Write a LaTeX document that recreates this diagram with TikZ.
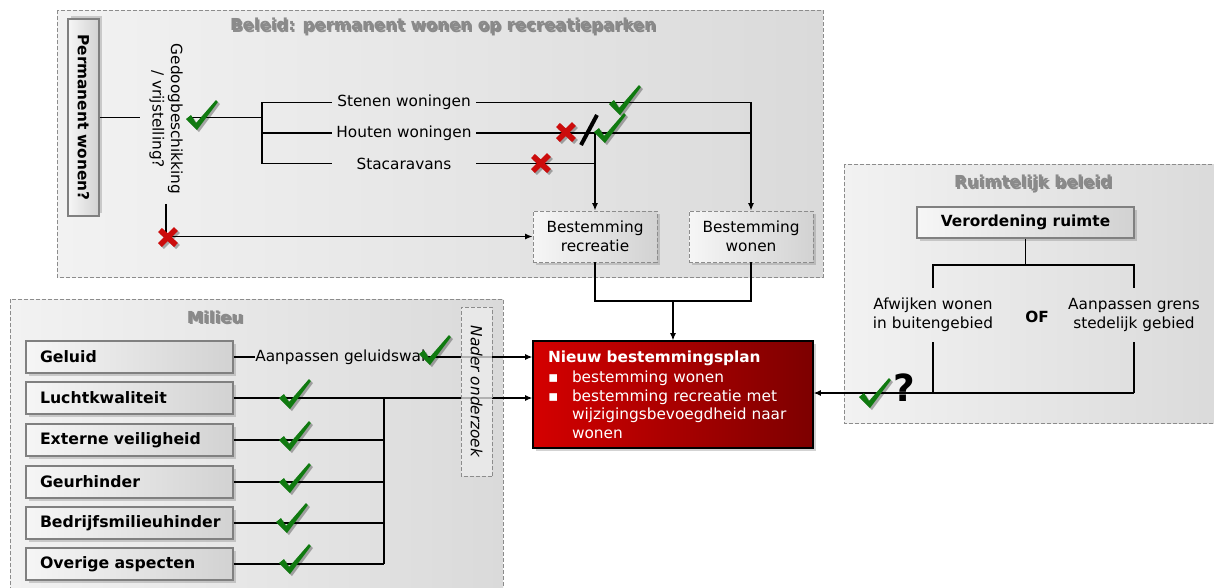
\documentclass[tikz,border=0pt]{standalone}
\usepackage{fontspec}
\setmainfont{DejaVu Sans}
\usetikzlibrary{shadows,arrows.meta}
\definecolor{panelL}{RGB}{242,242,242}
\definecolor{panelR}{RGB}{218,218,218}
\definecolor{boxL}{RGB}{246,246,246}
\definecolor{boxR}{RGB}{210,210,210}
\definecolor{boxdraw}{RGB}{128,128,128}
\definecolor{dashdraw}{RGB}{140,140,140}
\definecolor{redL}{RGB}{212,0,0}
\definecolor{redR}{RGB}{125,0,0}
\definecolor{chkgreen}{RGB}{16,122,16}
\definecolor{xred}{RGB}{204,12,12}
\definecolor{titlegray}{RGB}{138,138,138}
\tikzset{
  panel/.style={draw=dashdraw, dash pattern=on 3pt off 1.5pt, line width=0.6pt, left color=panelL, right color=panelR},
  shad/.style={drop shadow={opacity=0.35,shadow xshift=2pt,shadow yshift=-2.5pt}},
  rshad/.style={drop shadow={opacity=0.35,shadow xshift=2.5pt,shadow yshift=2pt}},
  box/.style={draw=boxdraw, line width=1.1pt, left color=boxL, right color=boxR},
  mbox/.style={box, shad, minimum height=24pt, text width=134.25pt, inner xsep=10.5pt, align=left, font=\bfseries\fontsize{11.8}{13.9}\selectfont},
  dbox/.style={draw=dashdraw, dash pattern=on 3pt off 1.5pt, line width=0.7pt, left color=boxL, right color=boxR, shad, minimum width=93pt, minimum height=38.25pt, align=center},
  txt/.style={inner sep=0pt},
  conn/.style={draw=black, line width=1pt},
  arr/.style={conn, -{Latex[length=5.5pt,width=4.5pt]}},
  ttl/.style={font=\bfseries\fontsize{12.4}{13}\selectfont, text=titlegray, inner sep=0pt},
  ttlshadow/.style={font=\bfseries\fontsize{12.4}{13}\selectfont, text=black, opacity=0.4, inner sep=0pt},
  chk/.pic={
    \fill[black, opacity=0.3] (-9,-6) -- (-4,-10) -- (1,-2) -- (21,-25) -- (23,-23) -- (2,5) -- cycle;
    \fill[chkgreen] (-11,-8) -- (-6,-12) -- (-1,-4) -- (19,-27) -- (21,-25) -- (0,3) -- cycle;
  },
  xmk/.pic={
    \draw[black, opacity=0.3, line width=4.2pt] (-6,-5) -- (10,10) (10,-6) -- (-6,10);
    \draw[xred, line width=4.2pt] (-8,-7) -- (8,8) (8,-8) -- (-8,8);
  }
}
\begin{document}
\begin{tikzpicture}[x=0.75pt,y=-0.75pt,font=\fontsize{11.5}{13.9}\selectfont]
\useasboundingbox (0,0) rectangle (1214,587);
% panels
\path[panel] (57,10) rectangle (823,277);
\path[panel] (10,299) rectangle (503,592);
\path[panel] (844,164) rectangle (1222,423);
% titles
\node[ttlshadow] (t1s) at (444.5,27.5) {Beleid: permanent wonen op recreatieparken};
\node[ttl] (t1) at (443,26) {Beleid: permanent wonen op recreatieparken};
\node[ttlshadow] (t2s) at (216.5,318.5) {Milieu};
\node[ttl] (t2) at (215,317) {Milieu};
\node[ttlshadow] (t3s) at (1034.5,184.5) {Ruimtelijk beleid};
\node[ttl] (t3) at (1033,183) {Ruimtelijk beleid};

% ===== Beleid panel =====
\node[box, rshad, rotate=-90, minimum width=147.75pt, minimum height=23.25pt, font=\bfseries\fontsize{11.5}{13.9}\selectfont] (perm) at (83.5,117.5) {Permanent wonen?};
\node[txt, rotate=-90, align=center, inner sep=7pt] (ged) at (166,119) {Gedoogbeschikking\\/ vrijstelling?};
\coordinate (bj) at (262,117.5);
\node[txt, minimum width=108pt] (sten) at (404,102.5) {Stenen woningen};
\node[txt, minimum width=108pt] (hout) at (404,133) {Houten woningen};
\node[txt, minimum width=108pt] (stac) at (404,163.5) {Stacaravans};
\node[dbox] (recr) at (595,236.5) {Bestemming\\recreatie};
\node[dbox] (wonen) at (751,236.5) {Bestemming\\wonen};
\coordinate (bb) at (673,301);

\draw[conn] (perm.north) -- (perm.north -| ged.south);
\draw[conn] (ged.north |- bj) -- (bj);
\draw[conn] (sten.west) -| (bj) |- (stac.west);
\draw[conn] (bj |- hout.west) -- (hout.west);
\draw[arr] (sten.east) -| (wonen.north);
\draw[conn] (hout.east) -- (hout.east -| wonen.north);
\draw[conn] (stac.east) -- (stac.east -| recr.north);
\draw[arr] (hout.east -| recr.north) -- (recr.north);
\draw[arr] (ged.east) |- (recr.west);
\draw[conn] (recr.south) |- (bb);
\draw[conn] (wonen.south) |- (bb);

% ===== Nieuw bestemmingsplan =====
\node[draw=black, line width=0.8pt, left color=redL, right color=redR, shad, text width=187.5pt, inner xsep=11.25pt, minimum height=80.25pt, align=left, text=white] (plan) at (673,394.5)
 {{\bfseries Nieuw bestemmingsplan}\\[1.5pt]
  \makebox[18pt][l]{▪}bestemming wonen\\
  \makebox[18pt][l]{▪}bestemming recreatie met\\
  \hspace*{18pt}wijzigingsbevoegdheid naar\\
  \hspace*{18pt}wonen};
\draw[arr] (bb) -- (plan.north);

% ===== Milieu =====
\node[mbox] (geluid) at (129.5,357) {Geluid};
\node[mbox] (lucht) at (129.5,398) {Luchtkwaliteit};
\node[mbox] (extern) at (129.5,440) {Externe veiligheid};
\node[mbox] (geur) at (129.5,482) {Geurhinder};
\node[mbox] (bedr) at (129.5,523) {Bedrijfsmilieuhinder};
\node[mbox] (over) at (129.5,564) {Overige aspecten};
\node[txt, anchor=west] (aanp) at (255,357) {Aanpassen geluidswal};
\coordinate (mj) at (384,398);
\draw[conn] (geluid.east) -- (aanp.west);
\draw[arr] (aanp.east) -- (aanp.east -| plan.west);
\draw[conn] (lucht.east) -- (mj);
\draw[conn] (extern.east) -- (extern.east -| mj);
\draw[conn] (geur.east) -- (geur.east -| mj);
\draw[conn] (bedr.east) -- (bedr.east -| mj);
\draw[conn] (over.east) -- (over.east -| mj);
\draw[conn] (mj) -- (mj |- over.east);
\draw[arr] (mj) -- (mj -| plan.west);
\node[draw=dashdraw, dash pattern=on 3pt off 1.5pt, line width=0.7pt, fill=black!7, fill opacity=0.75, text opacity=1, rotate=-90, minimum width=126.75pt, minimum height=23.25pt, font=\itshape\fontsize{11.5}{13.9}\selectfont] (nader) at (476.5,391.5) {Nader onderzoek};

% ===== Ruimtelijk beleid =====
\node[box, shad, minimum width=162.75pt, minimum height=23.25pt, font=\bfseries\fontsize{11.5}{13.9}\selectfont] (verord) at (1025.5,222.5) {Verordening ruimte};
\coordinate (rj) at (1025.5,265);
\node[txt, align=center, minimum height=40.5pt] (afw) at (933,315) {Afwijken wonen\\in buitengebied};
\node[txt, align=center, minimum height=40.5pt] (aanpg) at (1134,315) {Aanpassen grens\\stedelijk gebied};
\node[txt, font=\bfseries\fontsize{11.5}{13.9}\selectfont] (of) at (1037,317) {OF};
\coordinate (rb) at (1134,393);
\draw[conn] (verord.south) -- (rj);
\draw[conn] (afw.north) |- (rj) -| (aanpg.north);
\draw[conn] (aanpg.south) -- (rb);
\draw[conn] (afw.south) -- (afw.south |- rb);
\draw[arr] (rb) -- (rb -| plan.east);
\node[txt, font=\bfseries\fontsize{28}{28}\selectfont] (q) at (904,388) {?};

% ===== marks =====
\pic at (197,127) {chk};
\pic at (620,112) {chk};
\pic at (605,140) {chk};
\pic at (430,362) {chk};
\pic at (290,406) {chk};
\pic at (290,448) {chk};
\pic at (290,490) {chk};
\pic at (287,530) {chk};
\pic at (290,571) {chk};
\pic at (870,405) {chk};
\pic at (168,237) {xmk};
\pic at (566,132) {xmk};
\pic at (541,163) {xmk};
\draw[black, line width=3pt] (581,145) -- (597,115);
\end{tikzpicture}
\end{document}
